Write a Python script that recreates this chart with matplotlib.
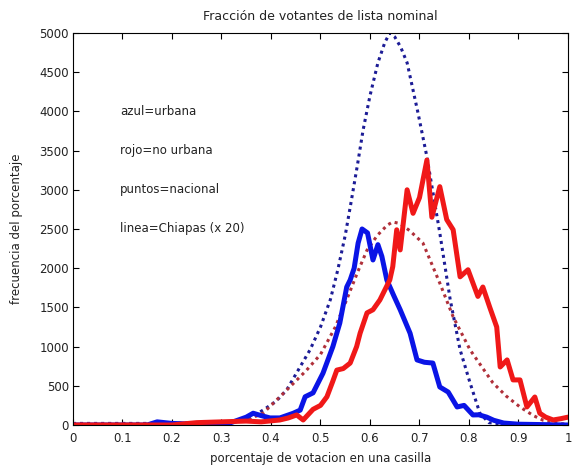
'''
Fraccion de votantes de lista nominal: histogramas nacional vs Chiapas.
'''
import matplotlib
matplotlib.use("Agg")
import matplotlib.pyplot as plt

# nacional urbana (puntos azules)
nac_urb_x = [0.0, 0.1, 0.2, 0.3, 0.35, 0.384, 0.41, 0.432, 0.455, 0.479, 0.50, 0.52, 0.535, 0.55,
             0.562, 0.575, 0.586, 0.60, 0.616, 0.63, 0.64, 0.65, 0.662, 0.675, 0.697, 0.715,
             0.741, 0.762, 0.782, 0.802, 0.822, 0.84, 0.87, 0.9, 1.0]
nac_urb_y = [20, 20, 20, 30, 60, 190, 300, 450, 700, 960, 1250, 1600, 1980, 2420,
             2850, 3330, 3760, 4200, 4620, 4880, 5000, 4950, 4820, 4620, 3980, 3420,
             2450, 1600, 960, 540, 150, 30, 10, 5, 0]

# nacional no urbana (puntos rojos)
nac_rur_x = [0.0, 0.1, 0.2, 0.3, 0.35, 0.384, 0.418, 0.45, 0.472, 0.50, 0.53, 0.553, 0.575,
             0.594, 0.615, 0.635, 0.646, 0.66, 0.68, 0.707, 0.741, 0.768, 0.802, 0.848,
             0.875, 0.903, 0.93, 0.95, 0.98, 1.0]
nac_rur_y = [15, 15, 20, 30, 60, 150, 360, 560, 700, 900, 1250, 1600, 1950,
             2230, 2420, 2550, 2590, 2570, 2480, 2320, 1810, 1380, 960, 540,
             370, 230, 120, 60, 20, 10]

# Chiapas urbana x 20 (linea azul)
chi_urb_x = [0.0, 0.15, 0.17, 0.2, 0.25, 0.317, 0.35, 0.364, 0.38, 0.398, 0.418, 0.445, 0.459,
             0.469, 0.485, 0.505, 0.525, 0.539, 0.553, 0.56, 0.568, 0.576, 0.584, 0.595,
             0.606, 0.616, 0.624, 0.634, 0.648, 0.661, 0.681, 0.695, 0.71, 0.727, 0.741,
             0.758, 0.776, 0.79, 0.808, 0.82, 0.836, 0.85, 0.87, 0.9, 0.95, 1.0]
chi_urb_y = [0, 0, 40, 20, 10, 25, 100, 150, 120, 90, 90, 150, 190,
             360, 410, 660, 1000, 1300, 1760, 1850, 2000, 2320, 2500, 2450,
             2105, 2300, 2150, 1850, 1650, 1470, 1170, 830, 800, 790, 485,
             420, 230, 250, 128, 130, 100, 60, 25, 10, 5, 0]

# Chiapas no urbana x 20 (linea roja)
chi_rur_x = [0.0, 0.2, 0.25, 0.3, 0.35, 0.38, 0.418, 0.435, 0.452, 0.465, 0.485, 0.50, 0.513,
             0.525, 0.533, 0.546, 0.56, 0.573, 0.58, 0.594, 0.606, 0.62, 0.64, 0.646,
             0.654, 0.661, 0.675, 0.687, 0.70, 0.715, 0.725, 0.741, 0.755, 0.768,
             0.782, 0.798, 0.818, 0.828, 0.842, 0.856, 0.863, 0.877, 0.889, 0.903,
             0.917, 0.933, 0.943, 0.955, 0.97, 0.985, 1.0]
chi_rur_y = [0, 0, 30, 40, 50, 40, 64, 90, 128, 64, 200, 250, 360,
             560, 700, 720, 790, 1000, 1170, 1430, 1470, 1595, 1850, 2020,
             2490, 2233, 3000, 2700, 2900, 3380, 2650, 3040, 2620, 2490,
             1890, 1980, 1640, 1760, 1500, 1250, 740, 830, 575, 575,
             230, 357, 150, 100, 64, 80, 100]

etiquetas = ["azul=urbana", "rojo=no urbana", "puntos=nacional", "linea=Chiapas (x 20)"]
etiquetas_y = [4000, 3500, 3000, 2500]

plt.rcParams['font.family'] = ['DejaVu Sans']

fig = plt.figure(figsize=(5.72, 4.68), dpi=100)
ax = fig.add_axes([0.1276, 0.0919, 0.8654, 0.8376])

ax.plot(nac_urb_x, nac_urb_y, linestyle=(0, (1, 1.3)), color="#1c1c96", linewidth=2.2)
ax.plot(nac_rur_x, nac_rur_y, linestyle=(0, (1, 1.3)), color="#b0303a", linewidth=2.2)
ax.plot(chi_urb_x, chi_urb_y, color="#0a14e6", linewidth=3.6)
ax.plot(chi_rur_x, chi_rur_y, color="#f01818", linewidth=3.6)

for txt, yy in zip(etiquetas, etiquetas_y):
    ax.text(0.095, yy, txt, fontsize=8.5, va="center", ha="left", color="#222222")

ax.set_xlim(0, 1)
ax.set_ylim(0, 5000)
ax.set_xticks([0, 0.1, 0.2, 0.3, 0.4, 0.5, 0.6, 0.7, 0.8, 0.9, 1])
ax.set_xticklabels(["0", "0.1", "0.2", "0.3", "0.4", "0.5", "0.6", "0.7", "0.8", "0.9", "1"])
ax.set_yticks(range(0, 5001, 500))
ax.tick_params(direction="in", top=True, right=True, length=4, labelsize=8.5, pad=3,
               labelcolor="#222222")
ax.tick_params(axis="x", pad=5)
ax.set_title("Fracción de votantes de lista nominal", fontsize=9, pad=9, color="#222222")
ax.set_xlabel("porcentaje de votacion en una casilla", fontsize=8.5, labelpad=5, color="#222222")
ax.set_ylabel("frecuencia del porcentaje", fontsize=8.5, labelpad=12, color="#222222")

fig.savefig("out.png", dpi=100)
